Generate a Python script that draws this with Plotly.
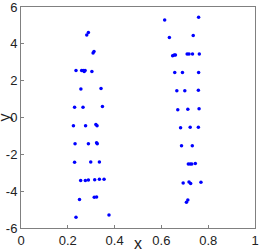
import plotly.graph_objects as go

# Left cluster
left_x = [0.288, 0.281, 0.312, 0.308,
          0.235, 0.259, 0.266, 0.270, 0.274, 0.303,
          0.256, 0.342,
          0.229, 0.265, 0.348,
          0.224, 0.276, 0.320, 0.325,
          0.231, 0.288, 0.323, 0.326,
          0.229, 0.298, 0.335,
          0.255, 0.275, 0.288, 0.315, 0.335, 0.355,
          0.250, 0.313, 0.323,
          0.235, 0.376]
left_y = [4.62, 4.48, 3.58, 3.50,
          2.55, 2.55, 2.55, 2.50, 2.55, 2.50,
          1.55, 1.58,
          0.55, 0.55, 0.60,
          -0.45, -0.45, -0.38, -0.45,
          -1.43, -1.43, -1.37, -1.43,
          -2.43, -2.41, -2.41,
          -3.42, -3.42, -3.40, -3.38, -3.35, -3.35,
          -4.45, -4.33, -4.31,
          -5.42, -5.29]

# Right cluster
right_x = [0.614, 0.759, 0.634, 0.736,
           0.648, 0.655, 0.660, 0.710, 0.718, 0.733, 0.762,
           0.657, 0.690, 0.759,
           0.666, 0.700, 0.758,
           0.670, 0.713, 0.761,
           0.682, 0.723, 0.758,
           0.686, 0.732,
           0.715, 0.723, 0.730, 0.745,
           0.693, 0.718, 0.725, 0.769,
           0.707, 0.713]
right_y = [5.30, 5.45, 4.35, 4.45,
           3.35, 3.40, 3.40, 3.45, 3.45, 3.45, 3.45,
           2.45, 2.45, 2.45,
           1.45, 1.45, 1.48,
           0.42, 0.45, 0.47,
           -0.55, -0.53, -0.53,
           -1.53, -1.53,
           -2.52, -2.52, -2.52, -2.50,
           -3.55, -3.50, -3.58, -3.52,
           -4.60, -4.48]

x_ticks = [0, 0.2, 0.4, 0.6, 0.8, 1]
y_ticks = [-6, -4, -2, 0, 2, 4, 6]

font_family = "Liberation Sans, Arial"

fig = go.Figure()
fig.add_trace(go.Scatter(x=left_x + right_x, y=left_y + right_y, mode="markers",
                         marker=dict(color="#0000ff", size=3.5, line=dict(width=0)),
                         showlegend=False, cliponaxis=False))

axis_common = dict(showgrid=False, zeroline=False, showline=True, linecolor="#808080",
                   linewidth=1, mirror=True, ticks="inside", ticklen=3, tickcolor="#808080",
                   automargin=False,
                   tickfont=dict(family=font_family, size=13, color="#222222"))

fig.update_layout(
    width=263, height=249,
    margin=dict(l=21, r=8, t=7, b=21, autoexpand=False),
    plot_bgcolor="white", paper_bgcolor="white",
    xaxis=dict(range=[0, 1], tickvals=x_ticks, ticktext=[str(v) for v in x_ticks],
               ticklabeloverflow="allow", **axis_common),
    yaxis=dict(range=[-6, 6], tickvals=y_ticks, ticktext=[str(v) for v in y_ticks],
               ticklabeloverflow="allow", **axis_common),
    annotations=[
        dict(text="x", x=0.5, y=0, xref="paper", yref="paper", yshift=-15,
             xanchor="center", yanchor="middle", showarrow=False,
             font=dict(family=font_family, size=16, color="#222222")),
        dict(text="y", x=0, y=0.5, xref="paper", yref="paper", xshift=-17,
             xanchor="center", yanchor="middle", showarrow=False, textangle=-90,
             font=dict(family=font_family, size=16, color="#222222")),
    ],
)

fig.write_html("out.html", config={"displayModeBar": False, "staticPlot": True},
               post_script="document.body.style.margin='0';document.body.style.overflow='hidden';")
